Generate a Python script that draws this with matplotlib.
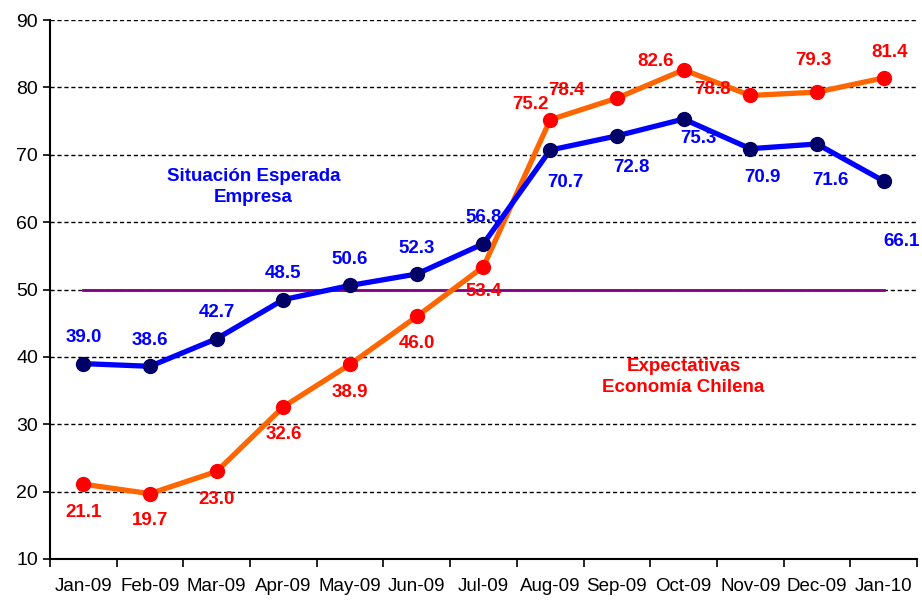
import numpy as np
import matplotlib
matplotlib.use("Agg")
import matplotlib.pyplot as plt

plt.rcParams["font.family"] = ["Liberation Sans", "DejaVu Sans"]

months = ["Jan-09", "Feb-09", "Mar-09", "Apr-09", "May-09", "Jun-09", "Jul-09",
          "Aug-09", "Sep-09", "Oct-09", "Nov-09", "Dec-09", "Jan-10"]
empresa = [39.0, 38.6, 42.7, 48.5, 50.6, 52.3, 56.8, 70.7, 72.8, 75.3, 70.9, 71.6, 66.1]
economia = [21.1, 19.7, 23.0, 32.6, 38.9, 46.0, 53.4, 75.2, 78.4, 82.6, 78.8, 79.3, 81.4]
neutral = 50

# label offsets in pixels (dx, dy)
off_emp = [(0, 26), (0, 26), (0, 26), (0, 26), (0, 26), (0, 26), (0, 26),
           (15, -32), (15, -32), (15, -19), (12, -29), (13, -37), (18, -60)]
off_eco = [(0, -28), (0, -27), (0, -28), (0, -28), (0, -28), (0, -27), (0, -25),
           (-20, 15), (-50, 8), (-28, 8), (-38, 6), (-4, 32), (6, 25)]

fig = plt.figure(figsize=(9.22, 6.01), dpi=100)
ax = fig.add_axes([0.0542, 0.0699, 0.9404, 0.8968])

x = np.arange(len(months))

for yv in range(20, 100, 10):
    ax.axhline(yv, color="black", linestyle=(0, (3, 2)), linewidth=1, zorder=1)

ax.plot([x[0], x[-1]], [neutral, neutral], color="#800080", linewidth=2, zorder=2)

ax.plot(x, economia, color="#FF6600", linewidth=3.8, zorder=3,
        marker="o", markersize=10, markerfacecolor="#FF0000",
        markeredgecolor="#FF0000")
ax.plot(x, empresa, color="#0000FF", linewidth=3.8, zorder=4,
        marker="o", markersize=10, markerfacecolor="#000066",
        markeredgecolor="#000066")

for i, v in enumerate(empresa):
    ax.annotate(f"{v:.1f}", (x[i], v), xytext=off_emp[i], textcoords="offset pixels",
                ha="center", va="center", color="#0000FF", fontsize=13.5,
                fontweight="bold", zorder=5, annotation_clip=False)
for i, v in enumerate(economia):
    ax.annotate(f"{v:.1f}", (x[i], v), xytext=off_eco[i], textcoords="offset pixels",
                ha="center", va="center", color="#FF0000", fontsize=13.5,
                fontweight="bold", zorder=5, annotation_clip=False)

ax.text(2.55, 65.2, "Situación Esperada\nEmpresa", color="#0000FF", fontsize=13.5,
        fontweight="bold", ha="center", va="center", linespacing=1.35)
ax.text(9.0, 37.0, "Expectativas\nEconomía Chilena", color="#FF0000", fontsize=13.5,
        fontweight="bold", ha="center", va="center", linespacing=1.35)

ax.set_xlim(-0.5, len(months) - 0.5)
ax.set_ylim(10, 90)
ax.set_yticks(range(10, 100, 10))
ax.tick_params(axis="y", labelsize=14, length=5, width=1.2, direction="out")
ax.set_xticks(x)
ax.set_xticklabels(months, fontsize=13.5)
ax.tick_params(axis="x", which="major", length=0, pad=14)
ax.set_xticks(np.arange(-0.5, len(months), 1), minor=True)
ax.tick_params(axis="x", which="minor", length=6, width=1.2, direction="out")

for s in ["top", "right"]:
    ax.spines[s].set_visible(False)
for s in ["left", "bottom"]:
    ax.spines[s].set_linewidth(1.5)

fig.savefig("out.png", dpi=100)
